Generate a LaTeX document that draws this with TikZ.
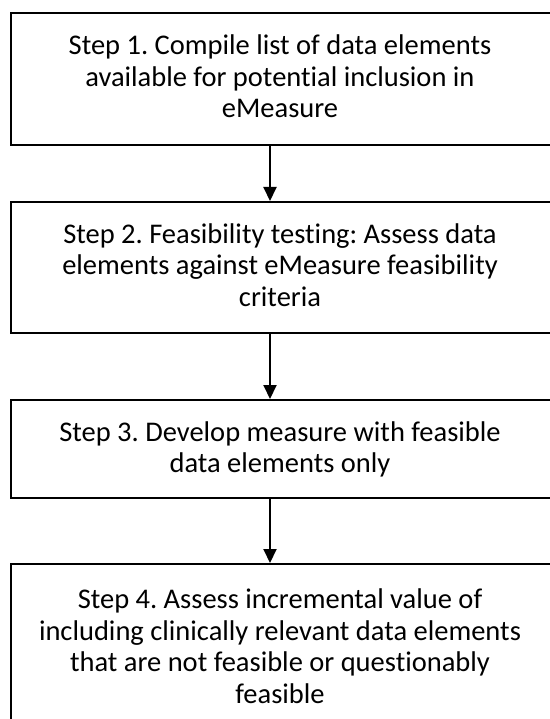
\documentclass[tikz,border=0pt]{standalone}
\usepackage{fontspec}
\setmainfont{Carlito}[Ligatures=NoCommon]
\usetikzlibrary{arrows.meta}
\begin{document}
\frenchspacing
\begin{tikzpicture}[x=1pt,y=-1pt,
  box/.style={draw=black, line width=2pt, minimum width=560pt, anchor=north west, inner sep=0pt},
  txt/.style={align=center, font=\fontsize{28.5}{31.5}\selectfont, inner sep=0pt},
  arr/.style={line width=2pt, -{Triangle[width=13pt,length=14pt]}}]
\useasboundingbox (0,0) rectangle (549,719);
\node[box, minimum height=132pt] (b1) at (10,12) {};
\node[box, minimum height=131pt] (b2) at (10,201) {};
\node[box, minimum height=98pt] (b3) at (10,399) {};
\node[box, minimum height=180pt] (b4) at (10,563) {};
\node[txt] (t1) at (280,76.7) {Step 1. Compile list of data elements\\available for potential inclusion in\\eMeasure};
\node[txt] (t2) at (280,265) {Step 2. Feasibility testing: Assess data\\elements against eMeasure feasibility\\criteria};
\node[txt] (t3) at (280,449.5) {Step 3. Develop measure with feasible\\data elements only};
\node[txt] (t4) at (280,646.4) {Step 4. Assess incremental value of\\including clinically relevant data elements\\that are not feasible or questionably\\feasible};
\coordinate (ax) at (270,0);
\draw[arr] (b1.south -| ax) -- (b2.north -| ax);
\draw[arr] (b2.south -| ax) -- (b3.north -| ax);
\draw[arr] (b3.south -| ax) -- (b4.north -| ax);
\end{tikzpicture}
\end{document}
